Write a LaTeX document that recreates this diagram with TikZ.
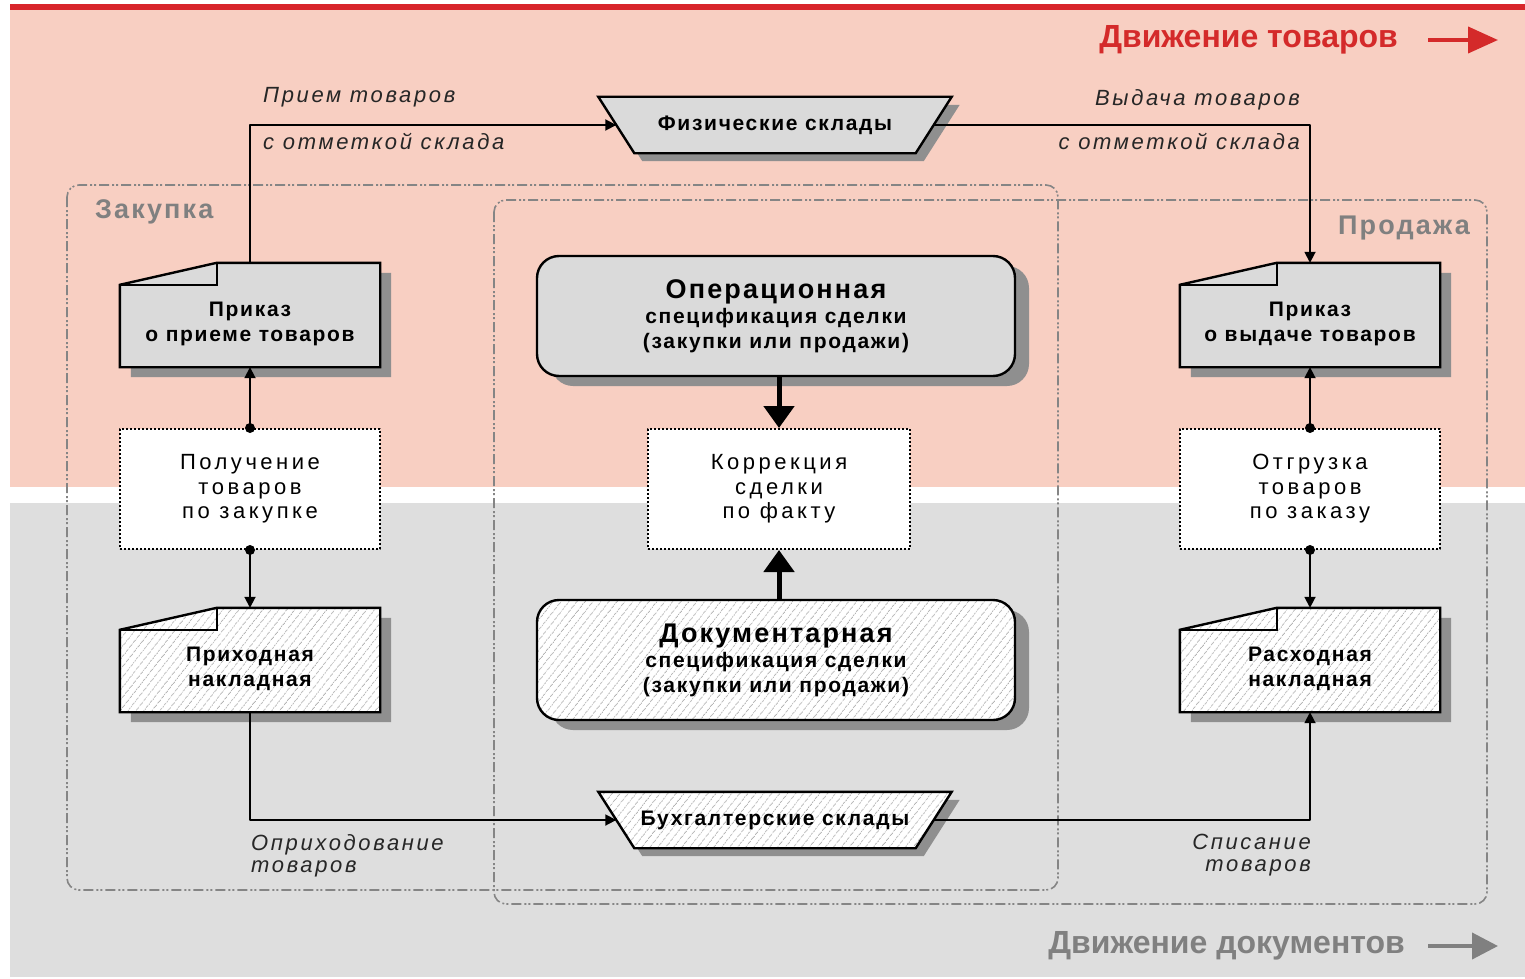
\documentclass[tikz,border=0pt]{standalone}
\usepackage{fontspec}
\setmainfont{Liberation Sans}
\newfontfamily\widefont[LetterSpace=8]{Liberation Sans}
\newfontfamily\actfont[LetterSpace=16]{Liberation Sans}
\newfontfamily\labelfont[LetterSpace=12]{Liberation Sans}
\usetikzlibrary{arrows.meta,patterns.meta,shadows}

\definecolor{redline}{HTML}{D8262B}
\definecolor{redtext}{HTML}{D42A2A}
\definecolor{pinkband}{HTML}{F8CFC2}
\definecolor{grayband}{HTML}{DEDEDE}
\definecolor{boxgray}{HTML}{DADADA}
\definecolor{shadegray}{HTML}{8F8F8F}
\definecolor{hatchgray}{HTML}{B4B4B4}
\definecolor{regiongray}{HTML}{858585}
\definecolor{titlegray}{HTML}{808080}
\definecolor{labelgray}{HTML}{262626}

\pgfdeclarelayer{bands}
\pgfdeclarelayer{boxes}
\pgfsetlayers{bands,boxes,main}

\tikzset{
	boxline/.style={draw=black, line width=2.4pt, line join=miter},
	grayfill/.style={fill=boxgray},
	hatchfill/.style={preaction={fill=white}, pattern={Lines[angle=52,distance=6.5pt,line width=0.9pt]}, pattern color=hatchgray},
	docnode/.style={minimum width=260pt, minimum height=104pt, inner sep=0pt, text height=57pt, align=center, font=\widefont\bfseries\fontsize{21}{25}\selectfont},
	actnode/.style={draw, line width=2pt, dash pattern=on 2pt off 2pt, fill=white, minimum width=260pt, minimum height=120pt, inner sep=0pt, align=center, font=\actfont\fontsize{22}{24.5}\selectfont},
	specnode/.style={boxline, rounded corners=22pt, minimum width=478pt, minimum height=120pt, inner sep=0pt, align=center, font=\widefont\bfseries\fontsize{21}{25}\selectfont, drop shadow={shadow xshift=14pt, shadow yshift=-10pt, opacity=1, fill=shadegray}},
	storenode/.style={minimum width=317pt, minimum height=56pt, inner sep=0pt, font=\widefont\bfseries\fontsize{21}{25}\selectfont},
	flowlabel/.style={inner sep=0pt, text=labelgray, font=\labelfont\itshape\fontsize{22}{22}\selectfont},
	regionlabel/.style={inner sep=0pt, text=titlegray, font=\widefont\bfseries\fontsize{27}{27}\selectfont},
	bandtitle/.style={inner sep=0pt, font=\bfseries\fontsize{32}{32}\selectfont},
	region/.style={draw=regiongray, line width=1.6pt, rounded corners=12pt, dash pattern=on 10pt off 3pt on 2pt off 2pt on 2pt off 3pt},
	conn/.style={line width=1.8pt, -{Triangle[length=11pt,width=11pt]}},
	bigconn/.style={line width=5pt, -{Triangle[length=22pt,width=30pt]}},
}

% document with folded corner, drawn under node #1
\newcommand{\docshape}[2]{%
	\begin{pgfonlayer}{boxes}
		\fill[shadegray] ([shift={(11,10)}]#1.south west) -- ([shift={(11,10)}]#1.south east) -- ([shift={(11,10)}]#1.north east) -- ([shift={(108,10)}]#1.north west) -- ([shift={(11,32)}]#1.north west) -- cycle;
		\path[boxline,#2] (#1.south west) -- (#1.south east) -- (#1.north east) -- ([shift={(97,0)}]#1.north west) -- ([shift={(0,22)}]#1.north west) -- cycle;
		\draw[boxline] ([shift={(97,0)}]#1.north west) -- ([shift={(97,22)}]#1.north west) -- ([shift={(0,22)}]#1.north west);
	\end{pgfonlayer}
}
% store (trapezium), drawn under node #1
\newcommand{\storeshape}[2]{%
	\begin{pgfonlayer}{boxes}
		\fill[shadegray] ([shift={(-10,8)}]#1.north west) -- ([shift={(26,8)}]#1.north east) -- ([shift={(-10,8)}]#1.south east) -- ([shift={(26,8)}]#1.south west) -- cycle;
		\path[boxline,#2] ([shift={(-18,0)}]#1.north west) -- ([shift={(18,0)}]#1.north east) -- ([shift={(-18,0)}]#1.south east) -- ([shift={(18,0)}]#1.south west) -- cycle;
	\end{pgfonlayer}
}

\begin{document}
\begin{tikzpicture}[x=1pt, y=-1pt, line join=round]
	\useasboundingbox (0,0) rectangle (1525,979);
	% bands and regions
	\begin{pgfonlayer}{bands}
		\fill[white] (0,0) rectangle (1525,979);
		\fill[redline] (10,4) rectangle (1525,10);
		\fill[pinkband] (10,10) rectangle (1525,487);
		\fill[grayband] (10,503) rectangle (1525,977);
		\draw[region] (67,185) rectangle (1058,890);
		\draw[region] (494,200) rectangle (1487,904);
	\end{pgfonlayer}
	
	\node[bandtitle, text=redtext, anchor=east] (goods) at (1398,40) {Движение товаров};
	\draw[line width=4pt, redtext, -{Triangle[length=30pt,width=26pt]}] ([xshift=30pt]goods.east) -- ++(70,0);
	\node[bandtitle, text=titlegray, anchor=east] (docs) at (1405,946) {Движение документов};
	\draw[line width=4pt, titlegray, -{Triangle[length=26pt,width=26pt]}] ([xshift=23pt]docs.east) -- ++(70,0);
	
	\node[regionlabel, anchor=west] (buy) at (95,212) {Закупка};
	\node[regionlabel, anchor=east] (sell) at (1470,228) {Продажа};
	
	% stores
	\node[storenode] (PW) at (775,125) {Физические склады};
	\storeshape{PW}{grayfill}
	\node[storenode] (AW) at (775,820) {Бухгалтерские склады};
	\storeshape{AW}{hatchfill}
	
	% documents
	\node[docnode] (A) at (250,315) {Приказ\\о приеме товаров};
	\docshape{A}{grayfill}
	\node[docnode] (B) at (250,660) {Приходная\\накладная};
	\docshape{B}{hatchfill}
	\node[docnode] (C) at (1310,315) {Приказ\\о выдаче товаров};
	\docshape{C}{grayfill}
	\node[docnode] (D) at (1310,660) {Расходная\\накладная};
	\docshape{D}{hatchfill}
	
	% actions
	\node[actnode] (E) at (250,489) {Получение\\товаров\\по закупке};
	\node[actnode, minimum width=262pt] (F) at (779,489) {Коррекция\\сделки\\по факту};
	\node[actnode] (G) at (1310,489) {Отгрузка\\товаров\\по заказу};
	
	% specifications
	\node[specnode, grayfill] (H) at (776,316) {{\fontsize{27}{29}\selectfont Операционная}\\спецификация сделки\\(закупки или продажи)};
	\node[specnode, hatchfill] (I) at (776,660) {{\fontsize{27}{29}\selectfont Документарная}\\спецификация сделки\\(закупки или продажи)};
	
	% labels
	\node[flowlabel, anchor=west] (inA) at (263,97) {Прием товаров};
	\node[flowlabel, anchor=west] (inB) at (263,141) {с отметкой склада};
	\node[flowlabel, anchor=east] (outA) at (1300,100) {Выдача товаров};
	\node[flowlabel, anchor=east] (outB) at (1300,141) {с отметкой склада};
	\node[flowlabel, anchor=north west, align=left] (post) at (251,834) {Оприходование\\товаров};
	\node[flowlabel, anchor=north east, align=right] (woff) at (1311,834) {Списание\\товаров};
	
	% connectors
	\draw[conn] (A.north) |- (PW.west);
	\draw[conn] (PW.east) -| (C.north);
	\draw[conn] (B.south) |- (AW.west);
	\draw[conn] (AW.east) -| (D.south);
	\draw[conn] (E.north) -- (A.south);
	\draw[conn] (E.south) -- (B.north);
	\draw[conn] (G.north) -- (C.south);
	\draw[conn] (G.south) -- (D.north);
	\fill (E.north) circle[radius=5pt] (E.south) circle[radius=5pt];
	\fill (G.north) circle[radius=5pt] (G.south) circle[radius=5pt];
	\draw[bigconn] (H.south -| F.north) -- (F.north);
	\draw[bigconn] (I.north -| F.south) -- (F.south);
\end{tikzpicture}
\end{document}
